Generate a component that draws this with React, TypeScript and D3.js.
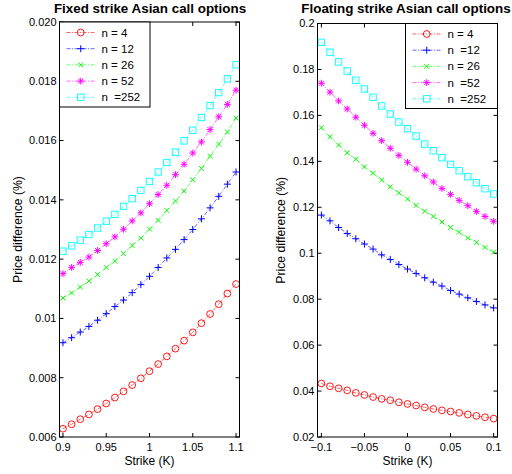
import React from "react";
import * as d3 from "d3";

const fixedStrikes = [0.9,0.91,0.92,0.93,0.94,0.95,0.96,0.97,0.98,0.99,1.0,1.01,1.02,1.03,1.04,1.05,1.06,1.07,1.08,1.09,1.1];
const floatStrikes = [-0.1,-0.09,-0.08,-0.07,-0.06,-0.05,-0.04,-0.03,-0.02,-0.01,0,0.01,0.02,0.03,0.04,0.05,0.06,0.07,0.08,0.09,0.1];

const fixedN4 = [0.00628,0.00643,0.0066,0.00676,0.00694,0.00713,0.00733,0.00754,0.00775,0.00798,0.00822,0.00846,0.00872,0.00898,0.00925,0.00953,0.00984,0.01015,0.01048,0.01084,0.01116];
const fixedN12 = [0.00918,0.00935,0.00954,0.00973,0.00994,0.01016,0.0104,0.01062,0.01087,0.01114,0.01142,0.01172,0.01204,0.01233,0.01266,0.013,0.01336,0.01373,0.01412,0.01453,0.01494];
const fixedN26 = [0.01069,0.01086,0.01106,0.01126,0.01148,0.01172,0.01193,0.01219,0.01246,0.01271,0.01301,0.01331,0.01364,0.01396,0.0143,0.01468,0.01506,0.01547,0.01588,0.01629,0.01676];
const fixedN52 = [0.01151,0.01172,0.01189,0.01207,0.01229,0.01252,0.01275,0.01301,0.01329,0.01356,0.01387,0.01418,0.01449,0.01485,0.0152,0.01558,0.01595,0.01637,0.0168,0.01722,0.0177];
const fixedN252 = [0.01227,0.01245,0.01264,0.01283,0.01305,0.01328,0.01351,0.01378,0.01404,0.01432,0.01462,0.01494,0.01526,0.01561,0.01599,0.01635,0.01678,0.01718,0.01762,0.01808,0.01856];

const floatN4 = [0.0433,0.0421,0.0412,0.0403,0.0392,0.0383,0.0374,0.0366,0.036,0.0351,0.0344,0.0337,0.0329,0.0322,0.0316,0.0311,0.0305,0.0298,0.0292,0.0286,0.028];
const floatN12 = [0.1166,0.1141,0.1112,0.1086,0.1063,0.104,0.1018,0.0993,0.0973,0.0951,0.0931,0.0912,0.0893,0.0874,0.0857,0.0838,0.0822,0.0806,0.079,0.0775,0.0762];
const floatN26 = [0.1546,0.1507,0.1471,0.1437,0.1409,0.1376,0.1348,0.1319,0.1289,0.1263,0.1236,0.1208,0.1183,0.116,0.1136,0.1112,0.1091,0.1067,0.1047,0.1025,0.1005];
const floatN52 = [0.174,0.1701,0.1663,0.1628,0.1592,0.1557,0.1522,0.149,0.1457,0.1426,0.1396,0.1366,0.1337,0.131,0.1282,0.1256,0.123,0.1207,0.1182,0.116,0.1139];
const floatN252 = [0.1918,0.1875,0.1833,0.1793,0.1753,0.1715,0.1679,0.1641,0.1606,0.1571,0.1542,0.151,0.1475,0.1446,0.1416,0.1387,0.1359,0.1333,0.1307,0.1281,0.1258];

const fixedLabels = ["n = 4", "n = 12", "n = 26", "n = 52", "n  =252"];
const floatLabels = ["n = 4", "n  =12", "n = 26", "n  =52", "n  =252"];

const fixedYTicks = [0.006,0.008,0.01,0.012,0.014,0.016,0.018,0.02];
const fixedYTickLabels = ["0.006","0.008","0.01","0.012","0.014","0.016","0.018","0.020"];
const fixedXTicks = [0.9,0.95,1,1.05,1.1];
const fixedXTickLabels = ["0.9","0.95","1","1.05","1.1"];
const floatYTicks = [0.02,0.04,0.06,0.08,0.1,0.12,0.14,0.16,0.18,0.2];
const floatYTickLabels = ["0.02","0.04","0.06","0.08","0.1","0.12","0.14","0.16","0.18","0.2"];
const floatXTicks = [-0.1,-0.05,0,0.05,0.1];
const floatXTickLabels = ["\u22120.1","\u22120.05","0","0.05","0.1"];

const colors = ["#ff0000", "#0000ff", "#00ff00", "#ff00ff", "#00ffff"];
const markerTypes = ["o", "+", "x", "*", "s"];

const FONT = "Liberation Sans, Arial, Helvetica, sans-serif";

function Marker({ type, x, y, color }: { type: string; x: number; y: number; color: string }) {
  const sw = 0.9;
  if (type === "o") return <circle cx={x} cy={y} r={3.4} fill="none" stroke={color} strokeWidth={sw} />;
  if (type === "s") return <rect x={x - 3.2} y={y - 3.2} width={6.4} height={6.4} fill="none" stroke={color} strokeWidth={sw} />;
  if (type === "+") {
    const s = 3.5;
    return <path d={`M${x - s},${y}H${x + s}M${x},${y - s}V${y + s}`} stroke={color} strokeWidth={1} fill="none" />;
  }
  if (type === "x") {
    const s = 2.4;
    return <path d={`M${x - s},${y - s}L${x + s},${y + s}M${x - s},${y + s}L${x + s},${y - s}`} stroke={color} strokeWidth={1} fill="none" />;
  }
  const s = 3.4, d = 2.5;
  return (
    <path
      d={`M${x - s},${y}H${x + s}M${x},${y - s}V${y + s}M${x - d},${y - d}L${x + d},${y + d}M${x - d},${y + d}L${x + d},${y - d}`}
      stroke={color}
      strokeWidth={1}
      fill="none"
    />
  );
}

type PanelProps = {
  title: string;
  xs: number[];
  series: number[][];
  labels: string[];
  xDomain: [number, number];
  yDomain: [number, number];
  xRange: [number, number];
  yRange: [number, number];
  xTicks: number[];
  xTickLabels: string[];
  yTicks: number[];
  yTickLabels: string[];
  legendX: number;
  legendY: number;
  legendW: number;
  ylabelX: number;
  titleX: number;
};

function Panel(p: PanelProps) {
  const x = d3.scaleLinear().domain(p.xDomain).range(p.xRange);
  const y = d3.scaleLinear().domain(p.yDomain).range(p.yRange);
  const [x0, x1] = p.xRange;
  const [y1, y0] = p.yRange;
  const line = d3.line<number>().x((_, i) => x(p.xs[i])).y((v) => y(v));
  const tl = 4;
  const cx = (x0 + x1) / 2;
  const cy = (y0 + y1) / 2;
  const rowH = 16.2;
  return (
    <g>
      <text x={p.titleX} y={13.3} textAnchor="middle" fontFamily={FONT} fontWeight="bold" fontSize={13.4}>{p.title}</text>
      {p.series.map((s, k) => (
        <g key={k}>
          <path d={line(s) || ""} fill="none" stroke={colors[k]} strokeWidth={0.6} strokeDasharray="4,1.5,1,1.5" />
          {s.map((v, i) => (
            <Marker key={i} type={markerTypes[k]} x={x(p.xs[i])} y={y(v)} color={colors[k]} />
          ))}
        </g>
      ))}
      <rect x={x0} y={y0} width={x1 - x0} height={y1 - y0} fill="none" stroke="#000" strokeWidth={1} />
      {p.yTicks.map((t, i) => (
        <g key={"y" + i}>
          <line x1={x0} x2={x0 + tl} y1={y(t)} y2={y(t)} stroke="#000" />
          <line x1={x1} x2={x1 - tl} y1={y(t)} y2={y(t)} stroke="#000" />
          <text x={x0 - 3} y={y(t)} dy="0.35em" textAnchor="end" fontFamily={FONT} fontSize={11}>{p.yTickLabels[i]}</text>
        </g>
      ))}
      {p.xTicks.map((t, i) => (
        <g key={"x" + i}>
          <line x1={x(t)} x2={x(t)} y1={y1} y2={y1 - tl} stroke="#000" />
          <line x1={x(t)} x2={x(t)} y1={y0} y2={y0 + tl} stroke="#000" />
          <text x={x(t)} y={y1 + 13.5} textAnchor="middle" fontFamily={FONT} fontSize={11}>{p.xTickLabels[i]}</text>
        </g>
      ))}
      <text x={cx} y={465} textAnchor="middle" fontFamily={FONT} fontSize={12}>Strike (K)</text>
      <text transform={`translate(${p.ylabelX},${cy}) rotate(-90)`} textAnchor="middle" dy="0.35em" fontFamily={FONT} fontSize={12.2}>Price difference (%)</text>
      <rect x={p.legendX} y={p.legendY} width={p.legendW} height={rowH * 5 + 4} fill="#fff" stroke="#000" strokeWidth={1} />
      {p.labels.map((lab, k) => {
        const ly = p.legendY + 10.5 + k * rowH;
        const lx0 = p.legendX + 7;
        const lx1 = p.legendX + 35.5;
        return (
          <g key={"l" + k}>
            <line x1={lx0} x2={lx1} y1={ly} y2={ly} stroke={colors[k]} strokeWidth={0.6} strokeDasharray="4,1.5,1,1.5" />
            <Marker type={markerTypes[k]} x={(lx0 + lx1) / 2} y={ly} color={colors[k]} />
            <text x={p.legendX + 42} y={ly} dy="0.35em" fontFamily={FONT} fontSize={11.5} style={{ whiteSpace: "pre" }} xmlSpace="preserve">{lab}</text>
          </g>
        );
      })}
    </g>
  );
}

export default function App() {
  return (
    <svg width={512} height={474} style={{ position: "absolute", left: 0, top: 0, background: "#fff" }}>
      <rect x={0} y={0} width={512} height={474} fill="#fff" />
      <Panel
        title="Fixed strike Asian call options"
        xs={fixedStrikes}
        series={[fixedN4, fixedN12, fixedN26, fixedN52, fixedN252]}
        labels={fixedLabels}
        xDomain={[0.896, 1.104]}
        yDomain={[0.006, 0.02]}
        xRange={[59.5, 239.5]}
        yRange={[437, 22]}
        xTicks={fixedXTicks}
        xTickLabels={fixedXTickLabels}
        yTicks={fixedYTicks}
        yTickLabels={fixedYTickLabels}
        legendX={59.5}
        legendY={22}
        legendW={90.5}
        ylabelX={18}
        titleX={150}
      />
      <Panel
        title="Floating strike Asian call options"
        xs={floatStrikes}
        series={[floatN4, floatN12, floatN26, floatN52, floatN252]}
        labels={floatLabels}
        xDomain={[-0.1045, 0.1045]}
        yDomain={[0.02, 0.2]}
        xRange={[317.5, 497.5]}
        yRange={[437, 23.5]}
        xTicks={floatXTicks}
        xTickLabels={floatXTickLabels}
        yTicks={floatYTicks}
        yTickLabels={floatYTickLabels}
        legendX={405.5}
        legendY={23.5}
        legendW={92}
        ylabelX={281}
        titleX={406}
      />
    </svg>
  );
}
